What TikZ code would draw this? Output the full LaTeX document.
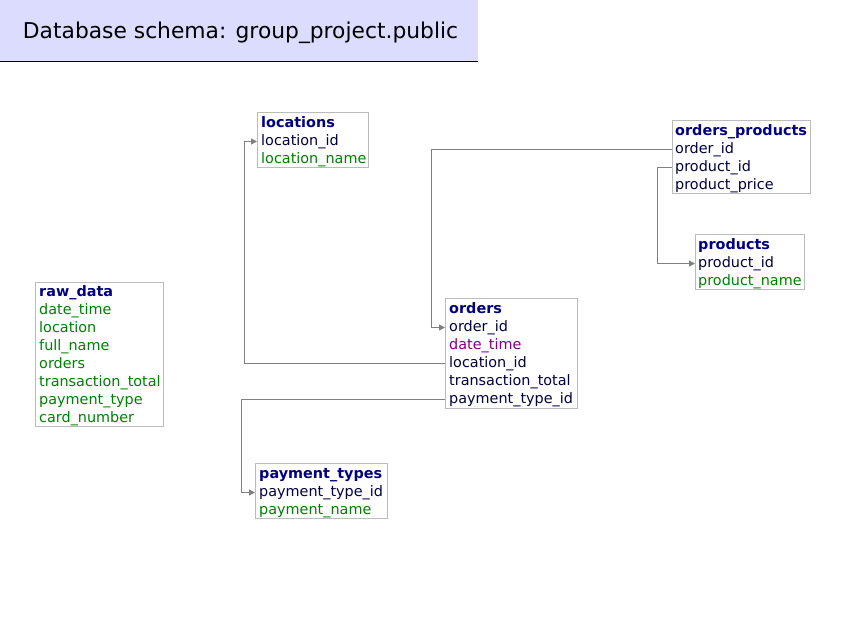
\documentclass[tikz,border=0pt]{standalone}
\usepackage{fontspec}
\setmainfont{DejaVu Sans}
\usetikzlibrary{arrows.meta}
\definecolor{titlebg}{HTML}{DCDCFF}
\definecolor{hdr}{HTML}{000080}
\definecolor{keyc}{HTML}{000040}
\definecolor{grn}{HTML}{008000}
\definecolor{purp}{HTML}{800080}
\definecolor{bord}{HTML}{BBBBBB}
\definecolor{conn}{HTML}{808080}
\tikzset{
  tbl/.style={draw=bord, line width=1pt, anchor=north west, inner sep=0pt, fill=white},
  rowtext/.style={anchor=west, inner sep=0pt, yshift=-1.5pt, font=\fontsize{14.4}{16}\selectfont, text height=10pt, text depth=3pt},
  head/.style={rowtext, text=hdr, font=\fontsize{14.4}{16}\selectfont\bfseries},
  plain/.style={rowtext, text=keyc},
  attr/.style={rowtext, text=grn},
  fk/.style={rowtext, text=purp},
  link/.style={draw=conn, line width=1pt},
  linkarr/.style={link, -{Triangle[length=6pt,width=6pt]}}
}
\begin{document}
\begin{tikzpicture}[x=1pt,y=-1pt]
\useasboundingbox[fill=white] (0,0) rectangle (854,642);
% title
\node[fill=titlebg, anchor=north west, inner sep=0pt, minimum width=478pt, minimum height=61pt] (title) at (0,0) {};
\node[inner sep=0pt, font=\fontsize{21.8}{24}\selectfont] (titleTxt) at (240.5,33) {Database schema: group\_project.public};
\draw[black, line width=1pt] (title.south west) -- (title.south east);

% locations
\node[tbl, minimum width=111pt, minimum height=55pt] (tLoc) at (257,112) {};
\node[head]  (locH)   at (261,122) {locations};
\node[plain] (locId)  at (261,140) {location\_id};
\node[attr]  (locNm)  at (261,158) {location\_name};

% orders_products
\node[tbl, minimum width=138pt, minimum height=73pt] (tOP) at (672,120) {};
\node[head]  (opH)    at (675,130) {orders\_products};
\node[plain] (opOid)  at (675,148) {order\_id};
\node[plain] (opPid)  at (675,166) {product\_id};
\node[plain] (opPr)   at (675,184) {product\_price};

% products
\node[tbl, minimum width=109pt, minimum height=55pt] (tProd) at (695,234) {};
\node[head]  (prH)    at (698,244) {products};
\node[plain] (prId)   at (698,262) {product\_id};
\node[attr]  (prNm)   at (698,280) {product\_name};

% raw_data
\node[tbl, minimum width=128pt, minimum height=144pt] (tRaw) at (35,282) {};
\node[head]  (rwH)  at (39,291) {raw\_data};
\node[attr]  (rw1)  at (39,309) {date\_time};
\node[attr]  (rw2)  at (39,327) {location};
\node[attr]  (rw3)  at (39,345) {full\_name};
\node[attr]  (rw4)  at (39,363) {orders};
\node[attr]  (rw5)  at (39,381) {transaction\_total};
\node[attr]  (rw6)  at (39,399) {payment\_type};
\node[attr]  (rw7)  at (39,417) {card\_number};

% orders
\node[tbl, minimum width=132pt, minimum height=110pt] (tOrd) at (445,298) {};
\node[head]  (orH)    at (449,308) {orders};
\node[plain] (orId)   at (449,326) {order\_id};
\node[fk]    (orDt)   at (449,344) {date\_time};
\node[plain] (orLoc)  at (449,362) {location\_id};
\node[plain] (orTot)  at (449,380) {transaction\_total};
\node[plain] (orPay)  at (449,398) {payment\_type\_id};

% payment_types
\node[tbl, minimum width=132pt, minimum height=55pt] (tPay) at (255,463) {};
\node[head]  (ptH)    at (259,473) {payment\_types};
\node[plain] (ptId)   at (259,491) {payment\_type\_id};
\node[attr]  (ptNm)   at (259,509) {payment\_name};

% connectors
\draw[linkarr] (tOrd.west |- orLoc) -- ++(-201,0) |- (tLoc.west |- locId);
\draw[linkarr] (tOP.west |- opOid) -- ++(-241,0) |- (tOrd.west |- orId);
\draw[linkarr] (tOP.west |- opPid) -- ++(-15,0) |- (tProd.west |- prId);
\draw[linkarr] (tOrd.west |- orPay) -- ++(-204,0) |- (tPay.west |- ptId);
\end{tikzpicture}
\end{document}
